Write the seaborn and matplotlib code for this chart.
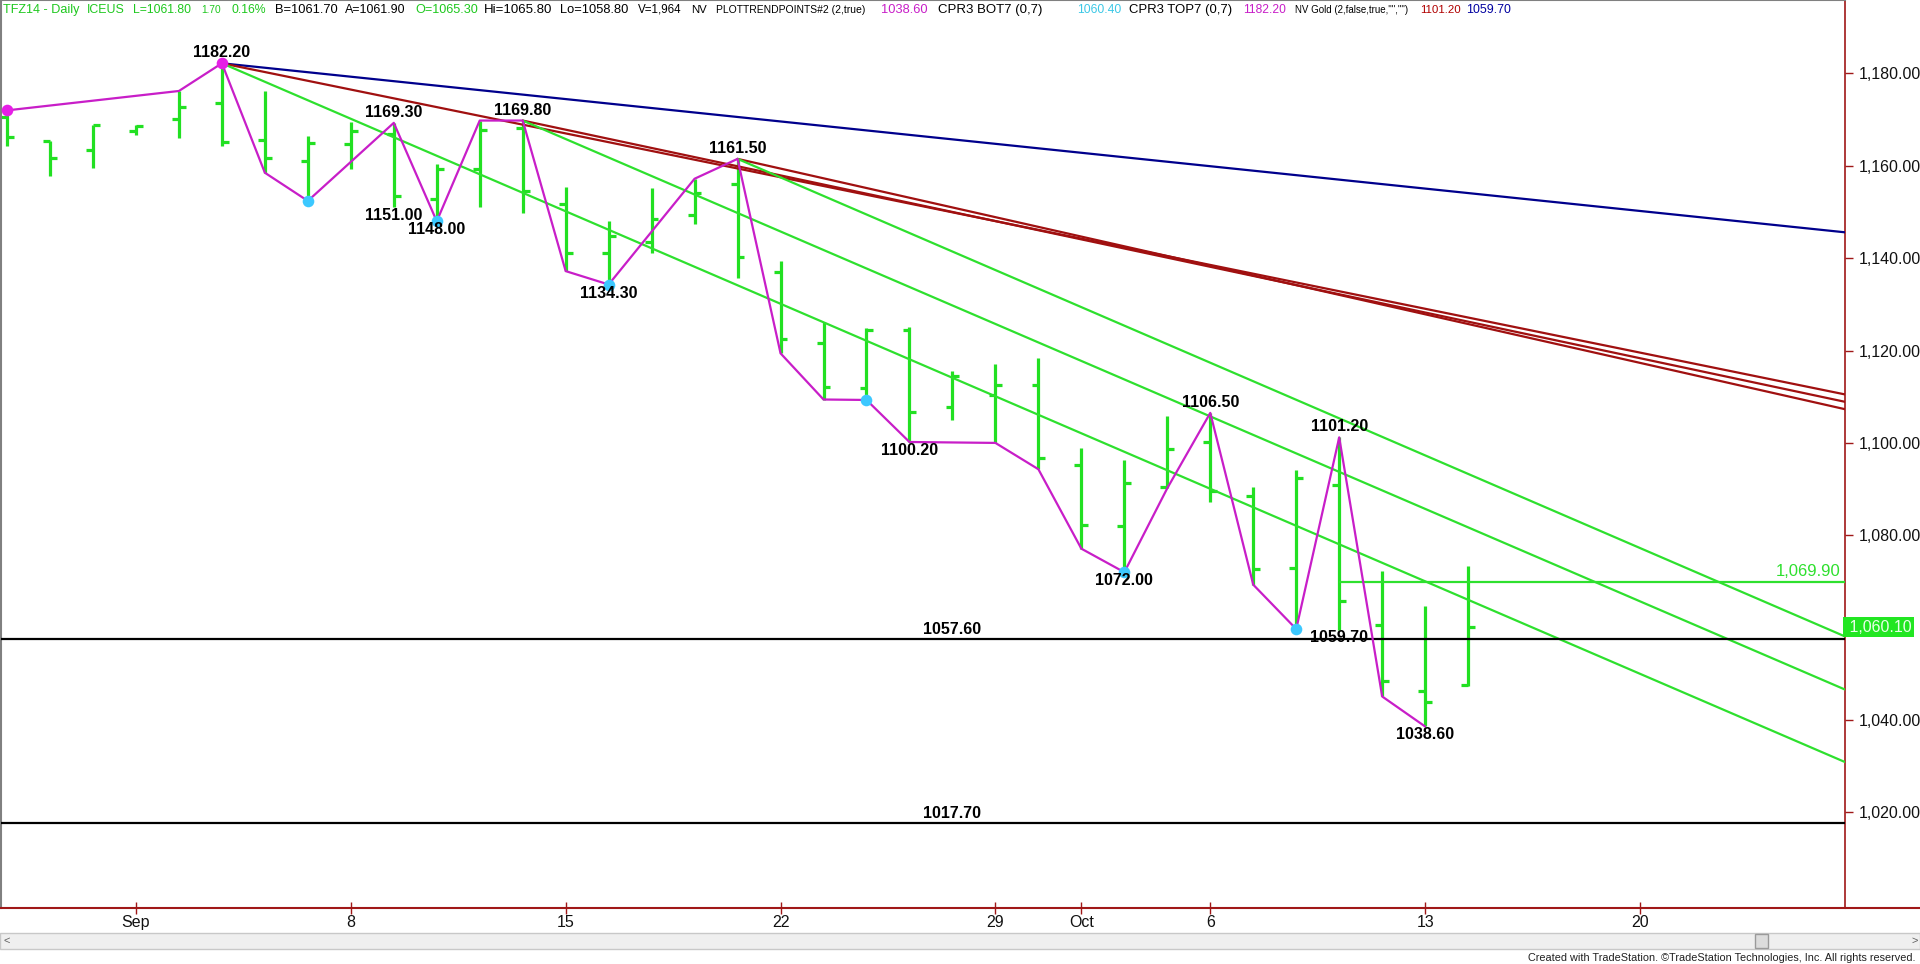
import pandas as pd
import matplotlib
matplotlib.use("Agg")
import matplotlib.pyplot as plt
import matplotlib.transforms as mtransforms
from matplotlib.patches import Rectangle
from matplotlib.lines import Line2D
import seaborn as sns

# TFZ14 daily bars, trading-day index 0 = Aug 27 2014 ... 34 = Oct 14 2014
opens = [1170.5, 1165.4, 1163.4, 1167.6, 1170.1, 1173.7, 1165.6, 1161.1, 1164.7, 1166.8,
         1152.9, 1159.3, 1168.1, 1151.7, 1141.2, 1143.4, 1149.4, 1156.0, 1137.0, 1121.7,
         1111.8, 1124.5, 1107.7, 1110.3, 1112.6, 1095.2, 1082.0, 1090.4, 1100.2, 1088.6,
         1073.0, 1090.9, 1060.6, 1046.3, 1047.5]
highs = [1171.8, 1165.4, 1168.8, 1168.8, 1176.2, 1182.2, 1176.2, 1166.5, 1169.4, 1169.3,
         1160.3, 1169.7, 1169.8, 1155.5, 1148.1, 1155.3, 1157.1, 1161.5, 1139.4, 1126.1,
         1124.8, 1125.0, 1115.6, 1117.0, 1118.3, 1098.8, 1096.3, 1105.8, 1106.5, 1090.4,
         1094.2, 1101.2, 1072.2, 1064.6, 1073.3]
lows = [1164.2, 1157.8, 1159.5, 1166.6, 1166.1, 1164.2, 1158.5, 1152.4, 1159.3, 1151.0,
        1148.0, 1151.0, 1149.7, 1137.2, 1134.3, 1141.2, 1147.3, 1135.8, 1119.4, 1109.4,
        1109.3, 1100.2, 1104.9, 1100.0, 1094.3, 1077.1, 1072.0, 1090.2, 1087.2, 1069.3,
        1059.7, 1059.5, 1045.1, 1038.6, 1047.3]
closes = [1166.3, 1161.6, 1168.8, 1168.6, 1172.7, 1165.2, 1161.6, 1165.0, 1167.6, 1153.5,
          1159.4, 1167.8, 1154.6, 1141.2, 1144.7, 1148.4, 1154.2, 1140.3, 1122.6, 1112.0,
          1124.4, 1106.7, 1114.4, 1112.5, 1096.8, 1082.2, 1091.4, 1098.6, 1089.6, 1072.6,
          1092.4, 1065.7, 1048.5, 1043.9, 1060.1]

date_ticks = [3, 8, 13, 18, 23, 25, 28, 33, 38]
date_labels = ['Sep', '8', '15', '22', '29', 'Oct', '6', '13', '20']
price_ticks = [1020, 1040, 1080, 1100, 1120, 1140, 1160, 1180]

# swing line (PLOTTRENDPOINTS)
swing_idx = [0, 4, 5, 6, 7, 9, 10, 11, 12, 13, 14, 16, 17, 18, 19, 20, 21, 23, 24,
             25, 26, 27, 28, 29, 30, 31, 32, 33]
swing_val = [1172.0, 1176.2, 1182.2, 1158.5, 1152.4, 1169.3, 1148.0, 1169.8, 1169.8,
             1137.2, 1134.3, 1157.2, 1161.5, 1119.4, 1109.4, 1109.3, 1100.2, 1100.0,
             1094.3, 1077.1, 1072.0, 1090.2, 1106.5, 1069.3, 1059.7, 1101.2, 1045.1, 1038.6]

top_dot_idx = [0, 5]
top_dot_val = [1172.0, 1182.2]
bot_dot_idx = [7, 10, 14, 20, 26, 30]
bot_dot_val = [1152.4, 1148.0, 1134.3, 1109.3, 1072.0, 1059.7]

above_idx = [5, 9, 12, 17, 28, 31]
above_val = [1182.2, 1169.3, 1169.8, 1161.5, 1106.5, 1101.2]
below_idx = [9, 10, 14, 21, 26, 31, 33]
below_val = [1151.0, 1148.0, 1134.3, 1100.2, 1072.0, 1059.7, 1038.6]

# trend lines: start bar, start price, price at right edge of chart
trend_names = ['blue', 'red1', 'red2', 'red3', 'green1', 'green2', 'green3']
trend_start_idx = [5, 5, 12, 17, 17, 12, 5]
trend_start_val = [1182.2, 1182.2, 1169.8, 1161.5, 1161.5, 1169.8, 1182.2]
trend_end_val = [1145.6, 1110.5, 1108.9, 1107.3, 1058.1, 1046.6, 1030.9]
trend_colors = ['#00008c', '#a01010', '#a01010', '#a01010', '#2ee02e', '#2ee02e', '#2ee02e']

support_levels = [1057.6, 1017.7]
resist_level = 1069.9
resist_start = 31
last_price = 1060.10

X_MIN, X_MAX = -0.14, 42.77
BAR_GREEN = '#22e022'
MAGENTA = '#c81ec8'
AXIS_RED = '#a01818'

sns.set_theme(style="white")
plt.rcParams['font.family'] = ['Liberation Sans', 'DejaVu Sans']

fig = plt.figure(figsize=(19.2, 9.64), dpi=100)
ax = fig.add_axes([1 / 1920, 56 / 964, 1844 / 1920, 908 / 964])
ax.set_xlim(X_MIN, X_MAX)
ax.set_ylim(999.3, 1195.9)

# ohlc bars
xs = list(range(len(opens)))
ax.vlines(xs, lows, highs, color=BAR_GREEN, lw=2.3, zorder=2)
ax.hlines(opens, [x - 0.16 for x in xs], xs, color=BAR_GREEN, lw=2.3, zorder=2)
ax.hlines(closes, xs, [x + 0.16 for x in xs], color=BAR_GREEN, lw=2.3, zorder=2)

# trend lines
rows = []
for n, si, sv, ev in zip(trend_names, trend_start_idx, trend_start_val, trend_end_val):
    rows.append((n, si, sv))
    rows.append((n, X_MAX, ev))
trend_df = pd.DataFrame(rows, columns=['line', 'x', 'y'])
sns.lineplot(data=trend_df, x='x', y='y', hue='line', palette=dict(zip(trend_names, trend_colors)),
             estimator=None, sort=False, lw=1.6, legend=False, ax=ax, zorder=3)

for lvl, txt in zip(support_levels, ['1057.60', '1017.70']):
    ax.axhline(lvl, color='black', lw=1.6, zorder=3)
    ax.annotate(txt, (22, lvl), xytext=(0, 2), textcoords='offset pixels', ha='center',
                va='bottom', fontsize=11.5, fontweight='bold', color='black')

ax.hlines(resist_level, resist_start, X_MAX, color='#2ee02e', lw=1.6, zorder=3)
ax.annotate('1,069.90', (X_MAX, resist_level), xytext=(-5, 3), textcoords='offset pixels',
            ha='right', va='bottom', fontsize=12, color='#2ee02e')

# swing line and pivot dots
sns.lineplot(x=swing_idx, y=swing_val, color=MAGENTA, lw=1.6, estimator=None, sort=False,
             ax=ax, zorder=4)
sns.scatterplot(x=top_dot_idx, y=top_dot_val, color='#e61ee6', s=70, linewidth=0, ax=ax, zorder=5)
sns.scatterplot(x=bot_dot_idx, y=bot_dot_val, color='#3cc8ff', s=70, linewidth=0, ax=ax, zorder=5)

for i, v in zip(above_idx, above_val):
    ax.annotate(f'{v:.2f}', (i, v), xytext=(0, 3), textcoords='offset pixels', ha='center',
                va='bottom', fontsize=11.5, fontweight='bold', color='black', zorder=6)
for i, v in zip(below_idx, below_val):
    ax.annotate(f'{v:.2f}', (i, v), xytext=(0, -1), textcoords='offset pixels', ha='center',
                va='top', fontsize=11.5, fontweight='bold', color='black', zorder=6)

# axes
ax.yaxis.tick_right()
ax.set_yticks(price_ticks)
ax.set_yticklabels([f'{p:,.2f}' for p in price_ticks])
ax.set_xticks(date_ticks)
ax.set_xticklabels(date_labels)
ax.tick_params(axis='y', color=AXIS_RED, labelcolor='#111111', length=6, width=1,
               direction='out', pad=4, labelsize=11.5, right=True, left=False)
ax.tick_params(axis='x', color=AXIS_RED, labelcolor='#111111', length=8, width=1,
               direction='inout', pad=1, labelsize=11.5, bottom=True)
ax.set_xlabel('')
ax.set_ylabel('')
for side in ['left', 'top']:
    ax.spines[side].set_color('#808080')
    ax.spines[side].set_linewidth(1.5)
ax.spines['right'].set_color(AXIS_RED)
ax.spines['bottom'].set_color(AXIS_RED)
ax.spines['right'].set_linewidth(1.2)
ax.spines['bottom'].set_linewidth(1.5)
fig.add_artist(Line2D([1845 / 1920, 1], [56 / 964, 56 / 964], color=AXIS_RED, lw=1.5))

# last price box
trans = mtransforms.blended_transform_factory(ax.transAxes, ax.transData)
ax.text(1.0, last_price, ' 1,060.10', transform=trans, ha='left', va='center', fontsize=11.5,
        color='#e8ffe8', clip_on=False, zorder=7,
        bbox=dict(boxstyle='square,pad=0.15', facecolor='#22e622', edgecolor='none'))

# header line: (text, colour, left px, right px)
header = [
    ('TFZ14 - Daily', '#1ec81e', 3, 80),
    ('ICEUS', '#1ec81e', 87, 125),
    ('L=1061.80', '#1ec81e', 133, 192),
    ('1.70', '#1ec81e', 201, 221),
    ('0.16%', '#1ec81e', 232, 267),
    ('B=1061.70', 'black', 275, 338),
    ('A=1061.90', 'black', 345, 406),
    ('O=1065.30', '#1ec81e', 415, 478),
    ('Hi=1065.80', 'black', 484, 553),
    ('Lo=1058.80', 'black', 560, 629),
    ('V=1,964', 'black', 638, 682),
    ('NV', 'black', 691, 707),
    ('PLOTTRENDPOINTS#2 (2,true)', 'black', 716, 866),
    ('1038.60', MAGENTA, 881, 928),
    ('CPR3 BOT7 (0,7)', 'black', 938, 1064),
    ('1060.40', '#3cc8e6', 1077, 1121),
    ('CPR3 TOP7 (0,7)', 'black', 1129, 1232),
    ('1182.20', MAGENTA, 1243, 1286),
    ('NV Gold (2,false,true,"","")', 'black', 1295, 1409),
    ('1101.20', '#b00000', 1420, 1461),
    ('1059.70', '#0000a0', 1466, 1511),
]
renderer = fig.canvas.get_renderer()
for txt, col, x0, x1 in header:
    t = fig.text(x0 / 1920, 1 - 10 / 964, txt, color=col, fontsize=9.5,
                 ha='left', va='center')
    w = t.get_window_extent(renderer).width
    if w > (x1 - x0):
        t.set_fontsize(9.5 * (x1 - x0) / w)

# scroll bar and footer
fig.add_artist(Rectangle((0, 1 - 949 / 964), 1, 16 / 964, transform=fig.transFigure,
                         facecolor='#efefef', edgecolor='#c8c8c8', lw=1))
fig.add_artist(Rectangle((1755 / 1920, 1 - 948 / 964), 13 / 1920, 14 / 964,
                         transform=fig.transFigure, facecolor='#dcdcdc', edgecolor='#9a9a9a', lw=1))
fig.text(4 / 1920, 1 - 941 / 964, '<', fontsize=8, color='#606060', va='center')
fig.text(1912 / 1920, 1 - 941 / 964, '>', fontsize=8, color='#606060', va='center')
fig.text(1916 / 1920, 1 - 958 / 964,
         'Created with TradeStation. \u00a9TradeStation Technologies, Inc. All rights reserved.',
         ha='right', va='center', fontsize=7.8, color='#202020')

fig.savefig('out.png', dpi=100, facecolor='white')
plt.close(fig)
